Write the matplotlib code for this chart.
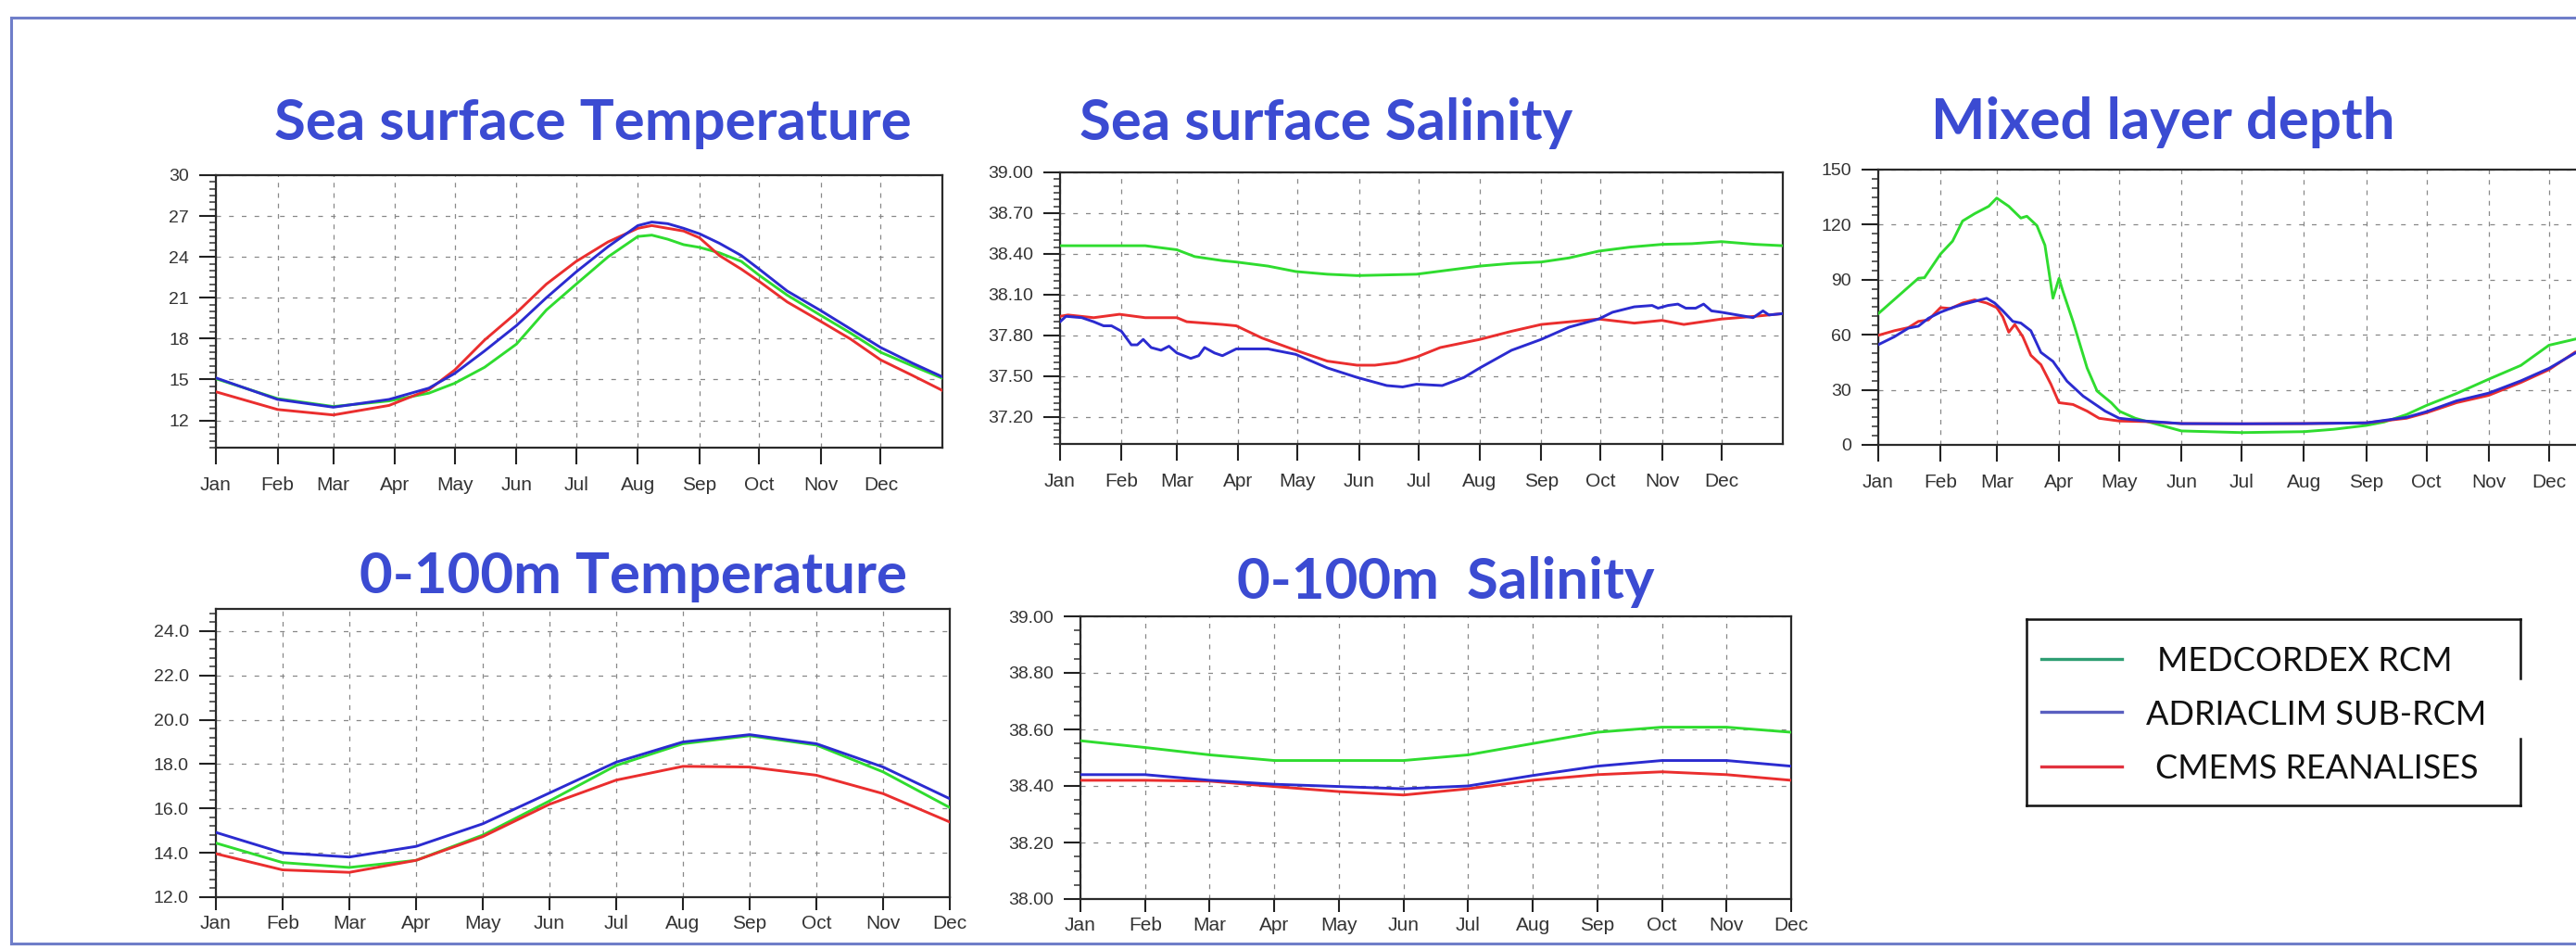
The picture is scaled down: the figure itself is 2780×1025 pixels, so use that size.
#!/usr/bin/env python3
"""Seasonal cycle panels: MEDCORDEX RCM vs ADRIACLIM SUB-RCM vs CMEMS reanalyses."""

import matplotlib

matplotlib.use("Agg")
import matplotlib.pyplot as plt
from matplotlib.lines import Line2D
from matplotlib.ticker import FormatStrFormatter, MultipleLocator

MONTHS = ["Jan", "Feb", "Mar", "Apr", "May", "Jun", "Jul", "Aug", "Sep", "Oct", "Nov", "Dec"]
MONTH_START_DAYS = [0, 31, 59, 90, 120, 151, 181, 212, 243, 273, 304, 334]
MONTH_INDEX = list(range(1, 13))

SERIES_LABELS = ["MEDCORDEX RCM", "ADRIACLIM SUB-RCM", "CMEMS REANALISES"]

# sea surface temperature (degC)
sst_days = [0, 31, 59, 87, 107, 120, 135, 151, 166, 181, 197, 212, 219, 227, 235,
            243, 253, 264, 273, 287, 304, 319, 334, 350, 365]
sst_med = [15.06, 13.6, 13.02, 13.43, 14.0, 14.73, 15.9, 17.6, 20.1, 22.0, 24.0, 25.5, 25.6,
           25.3, 24.9, 24.7, 24.3, 23.67, 22.65, 21.2, 19.7, 18.4, 17.0, 16.0, 15.1]
sst_adria = [15.12, 13.54, 12.97, 13.54, 14.37, 15.45, 17.1, 18.96, 21.0, 22.9, 24.75, 26.3,
             26.56, 26.44, 26.1, 25.7, 25.0, 24.1, 23.1, 21.5, 20.05, 18.7, 17.35, 16.2, 15.2]
sst_cmems = [14.1, 12.8, 12.4, 13.1, 14.25, 15.7, 17.9, 19.9, 22.0, 23.67, 25.1, 26.1, 26.3,
             26.1, 25.9, 25.4, 24.1, 23.1, 22.2, 20.7, 19.26, 17.96, 16.44, 15.3, 14.2]

# sea surface salinity
sss_med_days = [0, 31, 43, 59, 68, 82, 89, 105, 119, 135, 150, 165, 180, 196, 212, 228, 243,
                257, 272, 288, 304, 319, 334, 351, 365]
sss_med = [38.46, 38.46, 38.46, 38.43, 38.38, 38.35, 38.34, 38.31, 38.27, 38.25, 38.24, 38.245,
           38.25, 38.28, 38.31, 38.33, 38.34, 38.37, 38.42, 38.45, 38.47, 38.475, 38.49, 38.47,
           38.46]
sss_adria_days = [0, 3, 11, 17, 22, 26, 31, 36, 39, 42, 46, 51, 55, 59, 66, 70, 73, 78, 82, 89,
                  105, 119, 135, 150, 165, 173, 180, 193, 204, 212, 228, 243, 257, 272, 279,
                  290, 299, 302, 307, 312, 316, 321, 325, 329, 334, 342, 350, 355, 358, 365]
sss_adria = [37.9, 37.94, 37.93, 37.9, 37.87, 37.87, 37.83, 37.73, 37.73, 37.77, 37.71, 37.69,
             37.72, 37.67, 37.63, 37.65, 37.71, 37.67, 37.65, 37.70, 37.70, 37.66, 37.56, 37.49,
             37.43, 37.42, 37.44, 37.43, 37.49, 37.56, 37.69, 37.77, 37.86, 37.92, 37.97, 38.01,
             38.02, 38.0, 38.02, 38.03, 38.0, 38.0, 38.03, 37.98, 37.97, 37.95, 37.93, 37.98,
             37.95, 37.96]
sss_cmems_days = [0, 4, 17, 30, 43, 59, 64, 82, 89, 102, 119, 135, 150, 159, 170, 180, 192, 212,
                  228, 243, 272, 290, 304, 315, 334, 351, 365]
sss_cmems = [37.94, 37.95, 37.93, 37.955, 37.93, 37.93, 37.9, 37.88, 37.87, 37.78, 37.69, 37.61,
             37.58, 37.58, 37.6, 37.64, 37.71, 37.77, 37.83, 37.88, 37.92, 37.89, 37.91, 37.88,
             37.92, 37.94, 37.96]

# mixed layer depth (m)
mld_med_days = [0, 20, 23, 31, 37, 42, 48, 55, 59, 65, 71, 74, 79, 83, 87, 90, 92, 97, 104, 109,
                116, 120, 128, 139, 151, 181, 212, 227, 243, 252, 263, 273, 288, 304, 320, 334,
                347]
mld_med = [71.5, 90.8, 91.1, 104, 111, 122, 126, 130, 134.5, 130, 123.6, 124.6, 119.5, 108.8,
           79.9, 90.7, 83.5, 67.2, 41.9, 29.3, 23.0, 18.4, 14.5, 11.2, 7.6, 6.7, 7.2, 8.5, 10.6,
           12.5, 16.5, 21.5, 28.0, 35.8, 43.3, 54.3, 57.6]
mld_adria_days = [0, 8, 15, 20, 25, 31, 37, 42, 48, 54, 58, 62, 67, 71, 76, 81, 87, 94, 102, 113,
                  120, 133, 151, 181, 212, 243, 263, 273, 288, 304, 320, 334, 347]
mld_adria = [54.6, 58.9, 63.6, 64.7, 69, 72.3, 74.8, 76.5, 78.2, 79.9, 77.3, 73.1, 67.3, 66.4,
             62.2, 50.4, 45.5, 34.7, 26.6, 18.4, 14.5, 13.0, 11.6, 11.5, 11.6, 12.0, 15.0, 18.1,
             24.0, 28.2, 34.9, 41.7, 50.0]
mld_cmems_days = [0, 8, 15, 20, 25, 31, 36, 42, 48, 54, 59, 62, 65, 68, 72, 76, 81, 86, 90, 97,
                  104, 110, 120, 133, 151, 181, 212, 243, 263, 273, 288, 304, 320, 334, 347]
mld_cmems = [59.7, 62.2, 63.9, 67.3, 68.1, 74.8, 74.3, 77.3, 79.0, 77.3, 74.8, 69.8, 61.4, 65.6,
             58.9, 48.8, 43.7, 33.0, 23.0, 22.0, 18.4, 14.5, 13.0, 12.7, 11.6, 11.5, 11.6, 12.0,
             14.5, 17.5, 23.0, 27.0, 34.0, 41.0, 50.5]

# 0-100 m monthly means
t100_med = [14.44, 13.56, 13.34, 13.66, 14.8, 16.34, 17.94, 18.92, 19.28, 18.86, 17.65, 16.04]
t100_adria = [14.92, 14.0, 13.81, 14.29, 15.31, 16.7, 18.09, 19.0, 19.33, 18.92, 17.87, 16.44]
t100_cmems = [13.96, 13.23, 13.12, 13.66, 14.73, 16.19, 17.28, 17.9, 17.87, 17.5, 16.67, 15.39]

s100_med = [38.56, 38.536, 38.51, 38.49, 38.49, 38.49, 38.51, 38.55, 38.59, 38.608, 38.608, 38.59]
s100_adria = [38.44, 38.44, 38.42, 38.406, 38.398, 38.39, 38.40, 38.437, 38.47, 38.49, 38.49, 38.47]
s100_cmems = [38.42, 38.42, 38.417, 38.398, 38.38, 38.368, 38.39, 38.42, 38.44, 38.45, 38.44, 38.42]

W, H = 2780, 1025
LINE_COLORS = ["#2fdc2f", "#2b2bd0", "#ea2e2e"]
LEGEND_COLORS = ["#2e9e73", "#5a5fc0", "#e2323f"]
TITLE_COLOR = "#3b4bd2"
TICK_FONT = ["Liberation Sans Narrow", "Liberation Sans", "DejaVu Sans"]
TITLE_FONT = ["Lato", "DejaVu Sans"]


def rect(x0, y0, x1, y1):
    """Pixel box (top-left origin) -> figure fraction rect."""
    return [x0 / W, 1 - y1 / H, (x1 - x0) / W, (y1 - y0) / H]


def style(ax, xticks, xlim, yticks, ylim, yminor, yfmt, xtick_len=13, xpad=9):
    ax.set_xlim(*xlim)
    ax.set_ylim(*ylim)
    ax.set_xticks(xticks)
    ax.set_xticklabels(MONTHS)
    ax.set_yticks(yticks)
    ax.yaxis.set_major_formatter(FormatStrFormatter(yfmt))
    ax.yaxis.set_minor_locator(MultipleLocator(yminor))
    ax.tick_params(axis="both", which="major", direction="out", length=13, width=1.5,
                   color="#222222", labelcolor="#333333", pad=8)
    ax.tick_params(axis="x", which="major", labelsize=15, length=xtick_len, pad=xpad)
    ax.tick_params(axis="y", which="major", labelsize=14)
    ax.tick_params(axis="y", which="minor", direction="out", length=5, width=1.1, color="#333333")
    for lab in ax.get_xticklabels() + ax.get_yticklabels():
        lab.set_family(TICK_FONT)
    for spine in ax.spines.values():
        spine.set_linewidth(1.6)
        spine.set_color("#2a2a2a")
    ax.xaxis.grid(True, linestyle=(0, (4, 5)), color="#888888", linewidth=0.9)
    ax.yaxis.grid(True, linestyle=(0, (4, 7)), color="#888888", linewidth=0.9)
    ax.set_axisbelow(True)


def draw(ax, pairs):
    # plot order: green, red, blue on top
    for idx in (0, 2, 1):
        x, y = pairs[idx]
        ax.plot(x, y, color=LINE_COLORS[idx], linewidth=2.1, solid_joinstyle="round", zorder=3)


def title(fig, text, xc, baseline):
    fig.text(xc / W, 1 - baseline / H, text, ha="center", va="baseline", fontsize=44.5,
             fontweight="bold", color=TITLE_COLOR, family=TITLE_FONT)


def main():
    fig = plt.figure(figsize=(W / 100, H / 100), dpi=100)
    fig.patch.set_facecolor("white")

    ax = fig.add_axes(rect(233, 189, 1017, 483))
    draw(ax, [(sst_days, sst_med), (sst_days, sst_adria), (sst_days, sst_cmems)])
    style(ax, MONTH_START_DAYS, (0, 365), list(range(12, 31, 3)), (10, 30), 0.5, "%d")
    title(fig, "Sea surface Temperature", 640, 151)

    ax = fig.add_axes(rect(1144, 186, 1924, 479))
    draw(ax, [(sss_med_days, sss_med), (sss_adria_days, sss_adria), (sss_cmems_days, sss_cmems)])
    style(ax, MONTH_START_DAYS, (0, 365), [37.2, 37.5, 37.8, 38.1, 38.4, 38.7, 39.0], (37.0, 39.0),
          0.05, "%.2f")
    title(fig, "Sea surface Salinity", 1431, 151)

    ax = fig.add_axes(rect(2027, 183, 2818, 480))
    draw(ax, [(mld_med_days, mld_med), (mld_adria_days, mld_adria), (mld_cmems_days, mld_cmems)])
    style(ax, MONTH_START_DAYS, (0, 365), list(range(0, 151, 30)), (0, 150), 5, "%d")
    title(fig, "Mixed layer depth", 2334, 150)

    ax = fig.add_axes(rect(233, 657, 1025, 968))
    draw(ax, [(MONTH_INDEX, t100_med), (MONTH_INDEX, t100_adria), (MONTH_INDEX, t100_cmems)])
    style(ax, MONTH_INDEX, (1, 12), [12, 14, 16, 18, 20, 22, 24], (12, 25), 0.4, "%.1f",
          xtick_len=10, xpad=4)
    title(fig, "0-100m Temperature", 683, 640)

    ax = fig.add_axes(rect(1166, 665, 1933, 970))
    draw(ax, [(MONTH_INDEX, s100_med), (MONTH_INDEX, s100_adria), (MONTH_INDEX, s100_cmems)])
    style(ax, MONTH_INDEX, (1, 12), [38.0, 38.2, 38.4, 38.6, 38.8, 39.0], (38.0, 39.0), 0.05,
          "%.2f", xtick_len=10, xpad=4)
    title(fig, "0-100m  Salinity", 1560, 646)

    # legend box drawn by hand (right edge interrupted by the middle label)
    def fline(xs, ys, **kw):
        fig.add_artist(Line2D([x / W for x in xs], [1 - y / H for y in ys],
                              transform=fig.transFigure, **kw))

    box = dict(color="#111111", linewidth=1.8, solid_capstyle="projecting")
    left, right, top, bottom = 2187, 2720, 668, 869
    fline([left, right], [top, top], **box)
    fline([left, right], [bottom, bottom], **box)
    fline([left, left], [top, bottom], **box)
    fline([right, right], [top, 732], **box)
    fline([right, right], [797, bottom], **box)
    rows = [711, 768, 827]
    text_x = [2328, 2316, 2326]
    for label, color, y, tx in zip(SERIES_LABELS, LEGEND_COLORS, rows, text_x):
        fline([2203, 2290], [y, y], color=color, linewidth=2.4)
        fig.text(tx / W, 1 - y / H, label, ha="left", va="center_baseline", fontsize=26,
                 color="#111111", family=TITLE_FONT)

    # outer slide frame
    frame = dict(color="#6f7ec9", linewidth=2.2)
    fline([12, 2800], [19, 19], **frame)
    fline([12, 12], [19, 1018], **frame)
    fline([12, 2800], [1018, 1018], **frame)

    fig.savefig("out.png", dpi=100)
    plt.close(fig)


if __name__ == "__main__":
    main()
